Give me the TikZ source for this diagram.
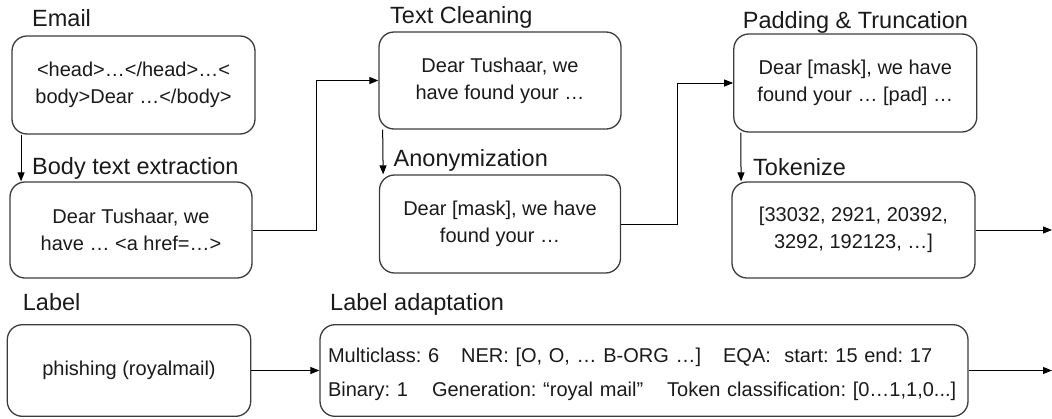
\documentclass[tikz,border=0pt]{standalone}
\usepackage{fontspec}
\setmainfont{Liberation Sans}
\usetikzlibrary{arrows.meta}
\definecolor{ink}{HTML}{1A1A1A}
\definecolor{edge}{HTML}{3C3C3C}

\begin{document}
\frenchspacing
\begin{tikzpicture}[x=1pt,y=-1pt,
  box/.style={draw=edge, line width=1.3pt, rounded corners=15pt, inner sep=0pt,
    text=ink, align=center, font=\fontsize{20}{27.3}\selectfont},
  title/.style={anchor=base west, inner sep=0pt, text=ink,
    font=\fontsize{23.5}{28}\selectfont},
  link/.style={draw=black, line width=1pt, -{Triangle[length=9pt,width=7pt]}}]
\useasboundingbox (0,0) rectangle (1052,418);

% ---- processing steps of the email text ----
\node[box, minimum width=243pt, minimum height=98pt] (email) at (133.5,85)
  {<head>…</head>…<\\body>Dear …</body>};
\node[box, minimum width=242pt, minimum height=96pt] (body) at (131,230)
  {Dear Tushaar, we\\have … <a href=…>};
\node[box, minimum width=242pt, minimum height=97pt] (clean) at (500,80.5)
  {Dear Tushaar, we\\have found your …};
\node[box, minimum width=241pt, minimum height=98pt] (anon) at (500,224)
  {Dear [mask], we have\\found your …};
\node[box, minimum width=243pt, minimum height=98pt] (pad) at (855.3,83)
  {Dear [mask], we have\\found your … [pad] …};
\node[box, minimum width=243pt, minimum height=96pt] (tok) at (853.5,230)
  {[33032, 2921, 20392,\\3292, 192123, …]};

% ---- label processing ----
\node[box, minimum width=243.4pt, minimum height=91.6pt] (label) at (129,370.5)
  {phishing (royalmail)};
\node[box, minimum height=91.6pt, text width=632pt, inner xsep=8pt, align=left,
  font=\fontsize{20}{33.7}\selectfont] (adapt) at (644,370.5)
  {\mbox{\rule{0pt}{22pt}Multiclass: 6\hspace{1.1em}NER: [O, O, … B-ORG …]\hspace{1.1em}EQA:\ \ start: 15 end: 17}\\
   \mbox{Binary: 1\hspace{1.2em}Generation: “royal mail”\hspace{1.2em}Token classification: [0…1,1,0...]}};

% ---- step titles ----
\node[title] (tEmail) at (32,26) {Email};
\node[title] (tBody)  at (32,174) {Body text extraction};
\node[title] (tClean) at (390,23) {Text Cleaning};
\node[title] (tAnon)  at (393.5,166.5) {Anonymization};
\node[title] (tPad)   at (742.7,28) {Padding \& Truncation};
\node[title] (tTok)   at (753,175) {Tokenize};
\node[title] (tLabel) at (22.7,310) {Label};
\node[title] (tAdapt) at (330,310) {Label adaptation};

% ---- free ends of the outgoing arrows ----
\coordinate (outTok) at (1052,230);
\coordinate (outAdapt) at (1052,370.5);

% ---- connectors ----
\draw[link] ([xshift=9.7pt]email.south west) -- ([xshift=11.7pt]body.north west);
\draw[link] (body.east) -- ++(64,0) |- (clean.west);
\draw[link] ([xshift=4.3pt]clean.south west) -- ([xshift=4.3pt]anon.north west);
\draw[link] (anon.east) -- ++(56,0) |- (pad.west);
\draw[link] ([xshift=7.7pt]pad.south west) -- ([xshift=9.7pt]tok.north west);
\draw[link] (tok.east) -- (outTok);
\draw[link] (label.east) -- (adapt.west);
\draw[link] (adapt.east) -- (outAdapt);
\end{tikzpicture}
\end{document}
